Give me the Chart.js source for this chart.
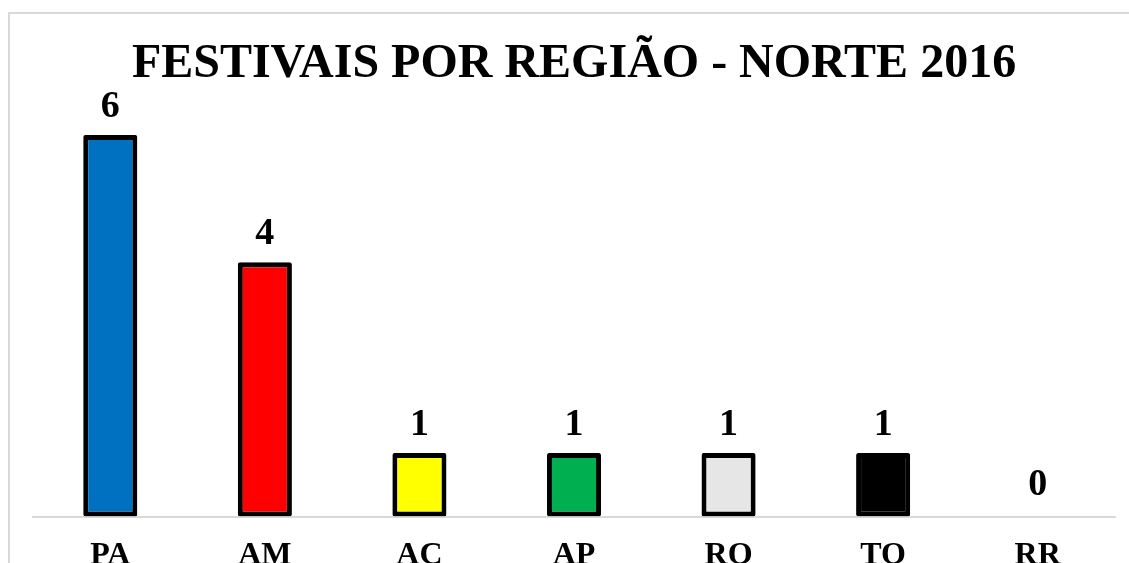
<!DOCTYPE html>
<html>
<head>
<meta charset="utf-8">
<script src="https://cdn.jsdelivr.net/npm/chart.js@4/dist/chart.umd.min.js"></script>
<style>
  html, body { margin: 0; padding: 0; background: #fff; overflow: hidden; }
  #wrap { position: relative; width: 1129px; height: 600px; }
</style>
</head>
<body>
<div id="wrap"><canvas id="c"></canvas></div>
<script>
const titleText = 'FESTIVAIS POR REGIÃO - NORTE 2016';
const categories = ['PA', 'AM', 'AC', 'AP', 'RO', 'TO', 'RR'];
const festivals = [6, 4, 1, 1, 1, 1, 0];
const barColors = ['#0070C0', '#FF0000', '#FFFF00', '#00B050', '#E7E6E6', '#000000', '#7F7F7F'];

const FONT = "'Liberation Serif', 'Times New Roman', serif";

const framePlugin = {
  id: 'frame',
  beforeDraw(chart) {
    const ctx = chart.ctx;
    ctx.save();
    ctx.strokeStyle = '#d9d9d9';
    ctx.lineWidth = 2;
    ctx.beginPath();
    ctx.moveTo(9, 600);
    ctx.lineTo(9, 13);
    ctx.lineTo(chart.width, 13);
    ctx.stroke();
    ctx.restore();
  }
};

const valueLabels = {
  id: 'valueLabels',
  afterDatasetsDraw(chart) {
    const ctx = chart.ctx;
    const meta = chart.getDatasetMeta(0);
    ctx.save();
    ctx.font = 'bold 38px ' + FONT;
    ctx.fillStyle = '#000';
    ctx.textAlign = 'center';
    ctx.textBaseline = 'alphabetic';
    meta.data.forEach((bar, i) => {
      const v = chart.data.datasets[0].data[i];
      ctx.fillText(String(v), bar.x, bar.y - (v === 0 ? 22 : 18));
    });
    ctx.restore();
  }
};

new Chart(document.getElementById('c'), {
  type: 'bar',
  data: {
    labels: categories,
    datasets: [{
      data: festivals,
      backgroundColor: barColors,
      borderColor: '#000000',
      borderWidth: 5,
      borderSkipped: false,
      borderRadius: 2,
      barPercentage: 0.35,
      categoryPercentage: 1.0
    }]
  },
  options: {
    responsive: true,
    maintainAspectRatio: false,
    animation: false,
    layout: { padding: { left: 33, right: 14, top: 0, bottom: 5 } },
    plugins: {
      legend: { display: false },
      tooltip: { enabled: false },
      title: {
        display: true,
        text: titleText,
        color: '#000',
        font: { family: FONT, size: 48, weight: 'bold', lineHeight: 1.2 },
        padding: { top: 36, bottom: 0 }
      }
    },
    scales: {
      x: {
        grid: { display: false, drawTicks: false },
        border: { display: true, color: '#d9d9d9', width: 2 },
        ticks: {
          color: '#000',
          padding: 20,
          font: { family: FONT, size: 32, weight: 'bold', lineHeight: 1.2 }
        }
      },
      y: {
        display: false,
        min: 0,
        max: 6.65
      }
    }
  },
  plugins: [framePlugin, valueLabels]
});
</script>
</body>
</html>
